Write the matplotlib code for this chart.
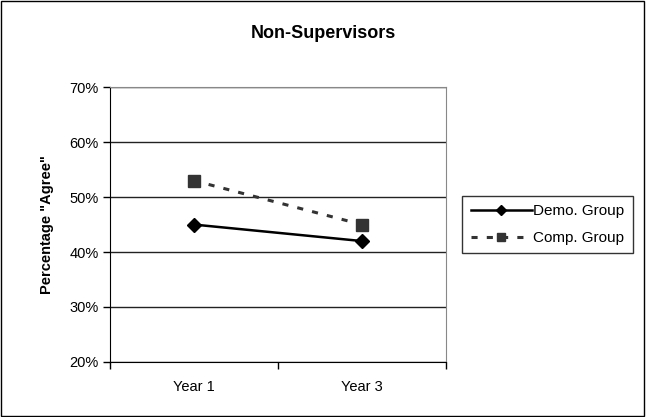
import matplotlib.pyplot as plt
from matplotlib.patches import Rectangle

plt.rcParams['font.family'] = ['Liberation Sans', 'DejaVu Sans']

# data
categories = ["Year 1", "Year 3"]
demo_group = [45, 42]
comp_group = [53, 45]

fig = plt.figure(figsize=(6.46, 4.17), dpi=100)
ax = fig.add_axes([0.170, 0.132, 0.520, 0.659])

x = list(range(len(categories)))
ax.plot(x, demo_group, color='black', lw=1.8, marker='D', markersize=7,
        label='Demo. Group')
ax.plot(x, comp_group, color='#333333', lw=2.2, linestyle=(0, (2, 3)),
        marker='s', markersize=9, label='Comp. Group')

ax.set_xlim(-0.5, 1.5)
ax.set_ylim(20, 70)
ax.set_yticks(range(20, 71, 10))
ax.set_yticklabels([f"{v}%" for v in range(20, 71, 10)], fontsize=10.5)
ax.set_xticks([-0.5, 0.5, 1.5])
ax.set_xticklabels([])
ax.set_xticks(x, minor=True)
ax.set_xticklabels(categories, minor=True, fontsize=10.5)
ax.tick_params(axis='x', which='minor', length=0, pad=13)
ax.tick_params(axis='x', which='major', length=5, direction='out', width=1)
ax.tick_params(axis='y', length=5, direction='out', width=1, pad=3)

ax.yaxis.grid(True, color='#222222', lw=1)
ax.set_axisbelow(True)
for side in ['top', 'right']:
    ax.spines[side].set_color('#888888')
for side in ['left', 'bottom']:
    ax.spines[side].set_color('black')

ax.set_ylabel('Percentage "Agree"', fontsize=10.5, fontweight='bold', labelpad=11)
fig.text(0.5, 0.92, "Non-Supervisors", ha='center', va='center',
         fontsize=13, fontweight='bold')

leg = ax.legend(loc='center left', bbox_to_anchor=(1.049, 0.5), fontsize=11,
                frameon=True, fancybox=False, numpoints=1, handlelength=4,
                markerscale=0.7, borderpad=0.55, labelspacing=0.85,
                handletextpad=0.1, borderaxespad=0)
leg.get_frame().set_edgecolor('black')
leg.get_frame().set_linewidth(1)

fig.patches.append(Rectangle((0.002, 0.003), 0.995, 0.994, transform=fig.transFigure,
                             fill=False, edgecolor='black', lw=1))

fig.savefig("out.png", dpi=100)
